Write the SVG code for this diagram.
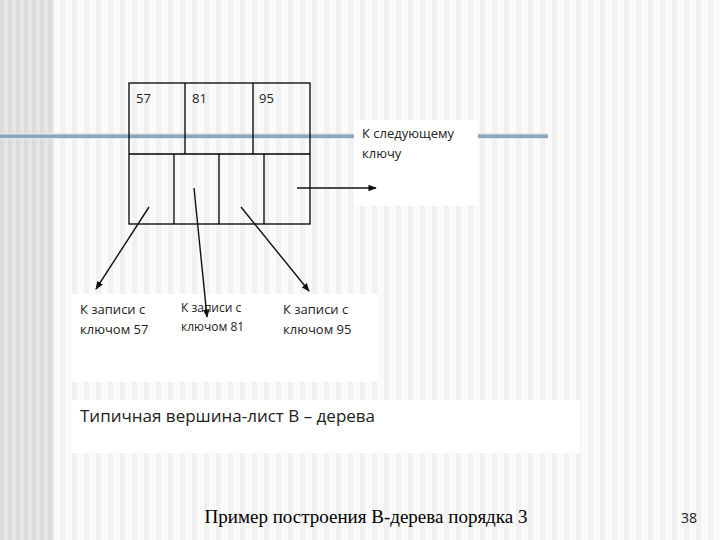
<svg xmlns="http://www.w3.org/2000/svg" width="720" height="540" viewBox="0 0 720 540">
<style>
.t{font-family:"Open Sans","DejaVu Sans",sans-serif;font-size:13px;fill:#222}
.c{stroke:#000;stroke-width:1.3;fill:none}
.a{stroke:#111;stroke-width:1.4;marker-end:url(#ar)}
</style>
<defs>
<pattern id="st" width="12" height="10" patternUnits="userSpaceOnUse"><rect width="12" height="10" fill="#fafafa"/><rect width="5" height="10" fill="#f1f1f1"/></pattern>
<pattern id="st2" width="8" height="10" patternUnits="userSpaceOnUse"><rect width="8" height="10" fill="#e6e6e6"/><rect width="4" height="10" fill="#dcdcdc"/></pattern>
<marker id="ar" viewBox="0 0 10 10" refX="9" refY="5" markerWidth="6" markerHeight="6" orient="auto"><path d="M0,1 L10,5 L0,9z" fill="#111"/></marker>
</defs>
<rect width="720" height="540" fill="url(#st)"/>
<rect width="54" height="540" fill="url(#st2)"/>
<rect x="0" y="133" width="548" height="6" fill="#dde9f3"/>
<rect x="0" y="134.5" width="548" height="3.5" fill="#8ea4b8"/>
<g id="node-leaf">
<rect x="129" y="83" width="181" height="141" fill="#fff" class="c"/>
<line x1="129" y1="154" x2="310" y2="154" class="c"/>
<line x1="185" y1="83" x2="185" y2="154" class="c"/>
<line x1="253" y1="83" x2="253" y2="154" class="c"/>
<line x1="174" y1="154" x2="174" y2="224" class="c"/>
<line x1="219" y1="154" x2="219" y2="224" class="c"/>
<line x1="264" y1="154" x2="264" y2="224" class="c"/>
<text x="136" y="103" class="t">57</text>
<text x="192" y="103" class="t">81</text>
<text x="259" y="103" class="t">95</text>
</g>
<g id="node-next">
<rect x="354" y="120" width="124" height="86" fill="#fff"/>
<text x="362" y="138" class="t">К следующему</text>
<text x="362" y="158" class="t">ключу</text>
</g>
<g id="node-records">
<rect x="72" y="294" width="306" height="88" fill="#fff"/>
<text x="80" y="314" class="t">К записи с</text>
<text x="80" y="334" class="t">ключом 57</text>
<text x="181" y="312" class="t" style="font-size:12px">К записи с</text>
<text x="181" y="331" class="t" style="font-size:12px">ключом 81</text>
<text x="283" y="314" class="t">К записи с</text>
<text x="283" y="334" class="t">ключом 95</text>
</g>
<g id="connectors">
<line x1="149" y1="207" x2="96" y2="289" class="a"/>
<line x1="194" y1="188" x2="207" y2="317" class="a"/>
<line x1="241" y1="207" x2="309" y2="291" class="a"/>
<line x1="297" y1="188" x2="376" y2="188" class="a"/>
</g>
<g id="caption">
<rect x="72" y="400" width="508" height="53" fill="#fff"/>
<text x="80" y="422" class="t" style="font-size:17px">Типичная вершина-лист B – дерева</text>
</g>
<text x="366" y="523" font-family="Liberation Serif,serif" font-size="19" text-anchor="middle" fill="#000">Пример построения B-дерева порядка 3</text>
<text x="697" y="523" font-family="Open Sans,sans-serif" font-size="14" text-anchor="end" fill="#222">38</text>
</svg>
